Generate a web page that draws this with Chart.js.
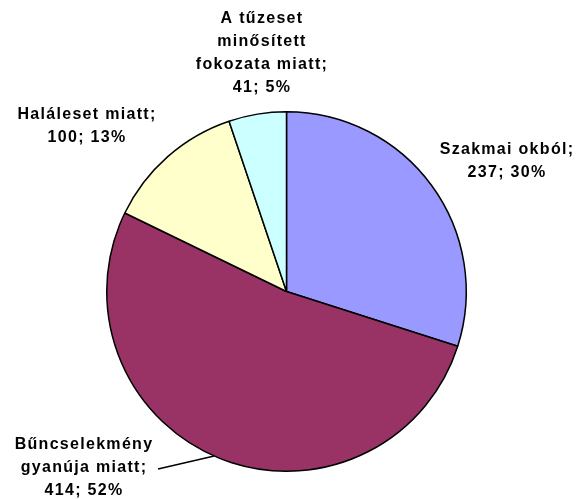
<!DOCTYPE html>
<html>
<head>
<meta charset="utf-8">
<script src="https://cdn.jsdelivr.net/npm/chart.js@4"></script>
<style>
  html, body { margin: 0; padding: 0; background: #fff; }
  #wrap { width: 577px; height: 499px; }
</style>
</head>
<body>
<div id="wrap"><canvas id="fireChart" width="577" height="499"></canvas></div>
<script>
// Categories and counts, clockwise from 12 o'clock
const categories = [
    ['Szakmai okból;'],
    ['Bűncselekmény', 'gyanúja miatt;'],
    ['Haláleset miatt;'],
    ['A tűzeset', 'minősített', 'fokozata miatt;']
];
const counts = [237, 414, 100, 41];
const percents = ['30%', '52%', '13%', '5%'];
const sliceColors = ['#9999FF', '#993366', '#FFFFCC', '#CCFFFF'];

// Where each label block sits (centre x, first line y) and optional leader line
const labelPlaces = [
    { x: 507, y: 150 },
    { x: 84, y: 445, leader: true },
    { x: 87, y: 115 },
    { x: 262, y: 19 }
];

const lineHeight = 23;

// Draws the "name; value; percent" labels beside the slices
const sliceLabels = {
    id: 'sliceLabels',
    afterDatasetsDraw(chart) {
        const ctx = chart.ctx;
        const meta = chart.getDatasetMeta(0);
        ctx.save();
        ctx.font = 'bold 16px "Liberation Sans", Arial, sans-serif';
        ctx.letterSpacing = '1.3px';
        ctx.fillStyle = '#000';
        ctx.textAlign = 'center';
        ctx.textBaseline = 'middle';
        categories.forEach((lines, i) => {
            const place = labelPlaces[i];
            const all = lines.concat([counts[i] + '; ' + percents[i]]);
            all.forEach((t, k) => ctx.fillText(t, place.x, place.y + k * lineHeight));
            if (place.leader) {
                const arc = meta.data[i];
                // point on the rim of the slice, near its mid angle
                const a = arc.startAngle + (arc.endAngle - arc.startAngle) * 0.51;
                const ex = arc.x + Math.cos(a) * arc.outerRadius;
                const ey = arc.y + Math.sin(a) * arc.outerRadius;
                ctx.beginPath();
                ctx.strokeStyle = '#000';
                ctx.lineWidth = 1.5;
                ctx.moveTo(place.x + 74, place.y + lineHeight + 1);
                ctx.lineTo(ex, ey);
                ctx.stroke();
            }
        });
        ctx.restore();
    }
};

new Chart(document.getElementById('fireChart'), {
    type: 'pie',
    data: {
        labels: categories.map(l => l.join(' ')),
        datasets: [{
            data: counts,
            backgroundColor: sliceColors,
            borderColor: '#000',
            borderWidth: 1.5
        }]
    },
    options: {
        responsive: false,
        animation: false,
        layout: { padding: { left: 106, right: 110, top: 111, bottom: 27 } },
        plugins: {
            legend: { display: false },
            tooltip: { enabled: false }
        }
    },
    plugins: [sliceLabels]
});
</script>
</body>
</html>
